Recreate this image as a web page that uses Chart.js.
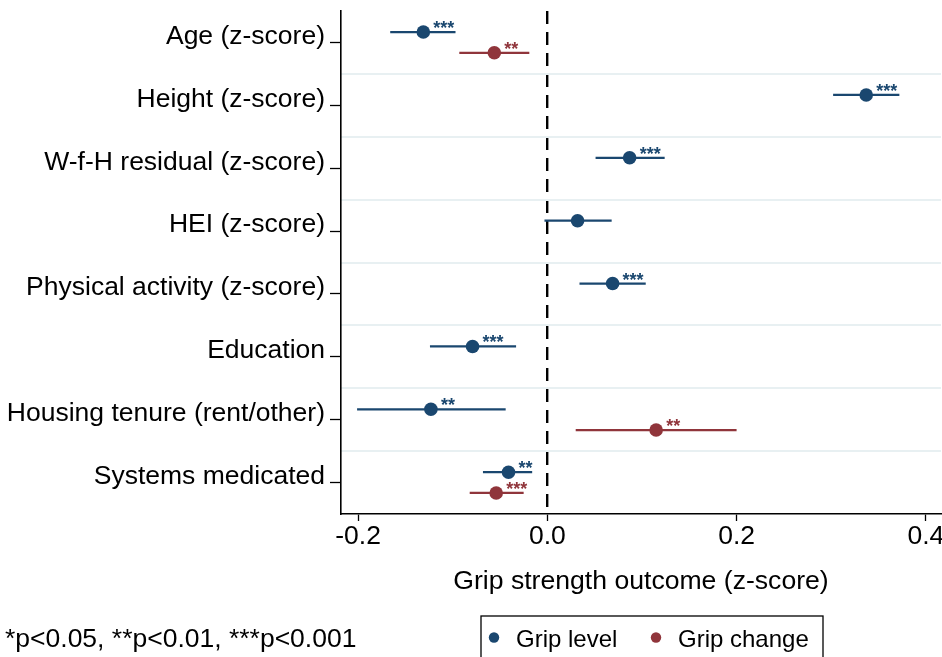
<!DOCTYPE html>
<html>
<head>
<meta charset="utf-8">
<script src="https://cdn.jsdelivr.net/npm/chart.js@4"></script>
<style>
  body { margin: 0; background: #fff; }
  canvas { display: block; }
</style>
</head>
<body>
<canvas id="coefPlot" width="942" height="657"></canvas>
<script>
// Coefficients with 95% CIs for each predictor, grip level vs grip change
const categories = [
  'Age (z-score)',
  'Height (z-score)',
  'W-f-H residual (z-score)',
  'HEI (z-score)',
  'Physical activity (z-score)',
  'Education',
  'Housing tenure (rent/other)',
  'Systems medicated'
];

const levelCoef  = [-0.131, 0.337, 0.087,  0.032, 0.069, -0.079, -0.123, -0.041];
const levelLow   = [-0.166, 0.302, 0.051, -0.003, 0.034, -0.124, -0.201, -0.068];
const levelHigh  = [-0.097, 0.372, 0.124,  0.068, 0.104, -0.033, -0.044, -0.016];
const levelStars = ['***', '***', '***', '', '***', '***', '**', '**'];

const changeCoef  = [-0.056, null, null, null, null, null, 0.115, -0.054];
const changeLow   = [-0.093, null, null, null, null, null, 0.030, -0.082];
const changeHigh  = [-0.019, null, null, null, null, null, 0.200, -0.025];
const changeStars = ['**', '', '', '', '', '', '**', '***'];

const xTicks = [-0.2, 0.0, 0.2, 0.4];

const NAVY = '#1a476f';
const MAROON = '#90353b';
const FONT = "'Liberation Sans', Arial, sans-serif";
const DODGE = 0.165;

Chart.defaults.font.family = FONT;
Chart.defaults.color = '#000';

function pointsFor(coef, stars, shift) {
  return coef
    .map((v, i) => v == null ? null : { x: v, y: i + shift, stars: stars[i] })
    .filter(Boolean);
}

function ciLines(coef, low, high, shift, color) {
  return coef
    .map((v, i) => v == null ? null : {
      data: [{ x: low[i], y: i + shift }, { x: high[i], y: i + shift }],
      showLine: true,
      borderColor: color,
      borderWidth: 2.3,
      pointRadius: 0
    })
    .filter(Boolean);
}

// keep the plot box flush with the canvas edges (no room reserved for edge labels)
function noEdgePadding(s) {
  s.paddingLeft = 0;
  s.paddingRight = 0;
  s.paddingTop = 0;
  s.paddingBottom = 0;
}

// significance stars next to each point estimate
const starLabels = {
  id: 'starLabels',
  afterDatasetsDraw(chart) {
    const ctx = chart.ctx;
    ctx.save();
    ctx.font = 'bold 18px ' + FONT;
    ctx.textAlign = 'left';
    ctx.textBaseline = 'alphabetic';
    [0, 1].forEach(d => {
      const ds = chart.data.datasets[d];
      const meta = chart.getDatasetMeta(d);
      ctx.fillStyle = ds.backgroundColor;
      meta.data.forEach((pt, j) => {
        const s = ds.data[j].stars;
        if (s) ctx.fillText(s, pt.x + 10, pt.y + 2);
      });
    });
    ctx.restore();
  }
};

// footnote and boxed legend under the axis title
const footer = {
  id: 'footer',
  afterDraw(chart) {
    const ctx = chart.ctx;
    ctx.save();
    ctx.fillStyle = '#000';
    ctx.textBaseline = 'alphabetic';
    ctx.textAlign = 'left';
    ctx.font = '26.5px ' + FONT;
    ctx.fillText('*p<0.05, **p<0.01, ***p<0.001', 5, 647);

    ctx.strokeStyle = '#000';
    ctx.lineWidth = 1.3;
    ctx.strokeRect(481, 616, 342, 60);

    ctx.font = '24px ' + FONT;
    const items = [
      { ds: chart.data.datasets[0], dotX: 494, textX: 516 },
      { ds: chart.data.datasets[1], dotX: 656, textX: 678 }
    ];
    items.forEach(it => {
      ctx.fillStyle = it.ds.backgroundColor;
      ctx.beginPath();
      ctx.arc(it.dotX, 637.5, 5.2, 0, Math.PI * 2);
      ctx.fill();
      ctx.fillStyle = '#000';
      ctx.fillText(it.ds.label, it.textX, 647);
    });
    ctx.restore();
  }
};

new Chart(document.getElementById('coefPlot'), {
  type: 'scatter',
  data: {
    datasets: [
      {
        label: 'Grip level',
        data: pointsFor(levelCoef, levelStars, -DODGE),
        backgroundColor: NAVY,
        borderWidth: 0,
        pointRadius: 6.8
      },
      {
        label: 'Grip change',
        data: pointsFor(changeCoef, changeStars, DODGE),
        backgroundColor: MAROON,
        borderWidth: 0,
        pointRadius: 6.8
      },
      ...ciLines(levelCoef, levelLow, levelHigh, -DODGE, NAVY),
      ...ciLines(changeCoef, changeLow, changeHigh, DODGE, MAROON)
    ]
  },
  options: {
    responsive: false,
    animation: false,
    layout: {
      autoPadding: false,
      padding: { top: 11, right: 1, left: 0, bottom: 0 }
    },
    plugins: {
      legend: { display: false },
      tooltip: { enabled: false }
    },
    scales: {
      x: {
        type: 'linear',
        position: 'bottom',
        min: -0.218,
        max: 0.416,
        afterBuildTicks: s => { s.ticks = xTicks.map(v => ({ value: v })); },
        afterFit: s => { s.height = 143; noEdgePadding(s); },
        ticks: {
          font: { size: 26.5 },
          color: '#000',
          padding: 0,
          callback: v => v.toFixed(1)
        },
        grid: {
          drawOnChartArea: false,
          drawTicks: true,
          tickLength: 7,
          tickColor: '#000',
          tickWidth: 1.3
        },
        border: { display: true, color: '#000', width: 1.6 },
        title: {
          display: true,
          text: 'Grip strength outcome (z-score)',
          font: { size: 26.6 },
          color: '#000',
          padding: { top: 0, bottom: 59 }
        }
      },
      // reference line at zero
      xZero: {
        type: 'linear',
        position: 'top',
        min: -0.218,
        max: 0.416,
        afterBuildTicks: s => { s.ticks = [{ value: 0 }]; },
        afterFit: s => { s.height = 0; noEdgePadding(s); },
        ticks: { display: false },
        grid: { color: '#000', lineWidth: 2.4, drawTicks: false },
        border: { display: false, dash: [13, 8] }
      },
      // light separators between predictor rows
      yRows: {
        type: 'linear',
        position: 'left',
        reverse: true,
        min: -0.5,
        max: 7.5,
        afterBuildTicks: s => {
          s.ticks = categories.slice(1).map((c, i) => ({ value: i + 0.5 }));
        },
        afterFit: s => { s.width = 0; noEdgePadding(s); },
        ticks: { display: false },
        grid: { color: '#e8f0f2', lineWidth: 2, drawTicks: false },
        border: { display: false }
      },
      y: {
        type: 'linear',
        position: 'left',
        reverse: true,
        min: -0.5,
        max: 7.5,
        afterBuildTicks: s => { s.ticks = categories.map((c, i) => ({ value: i })); },
        afterFit: s => { s.width = 341; noEdgePadding(s); },
        ticks: {
          font: { size: 26.5 },
          color: '#000',
          padding: 5,
          labelOffset: -6,
          callback: v => categories[v]
        },
        grid: {
          drawOnChartArea: false,
          drawTicks: true,
          tickLength: 11,
          tickColor: '#000',
          tickWidth: 1.3
        },
        border: { display: true, color: '#000', width: 1.6 }
      }
    }
  },
  plugins: [starLabels, footer]
});
</script>
</body>
</html>
